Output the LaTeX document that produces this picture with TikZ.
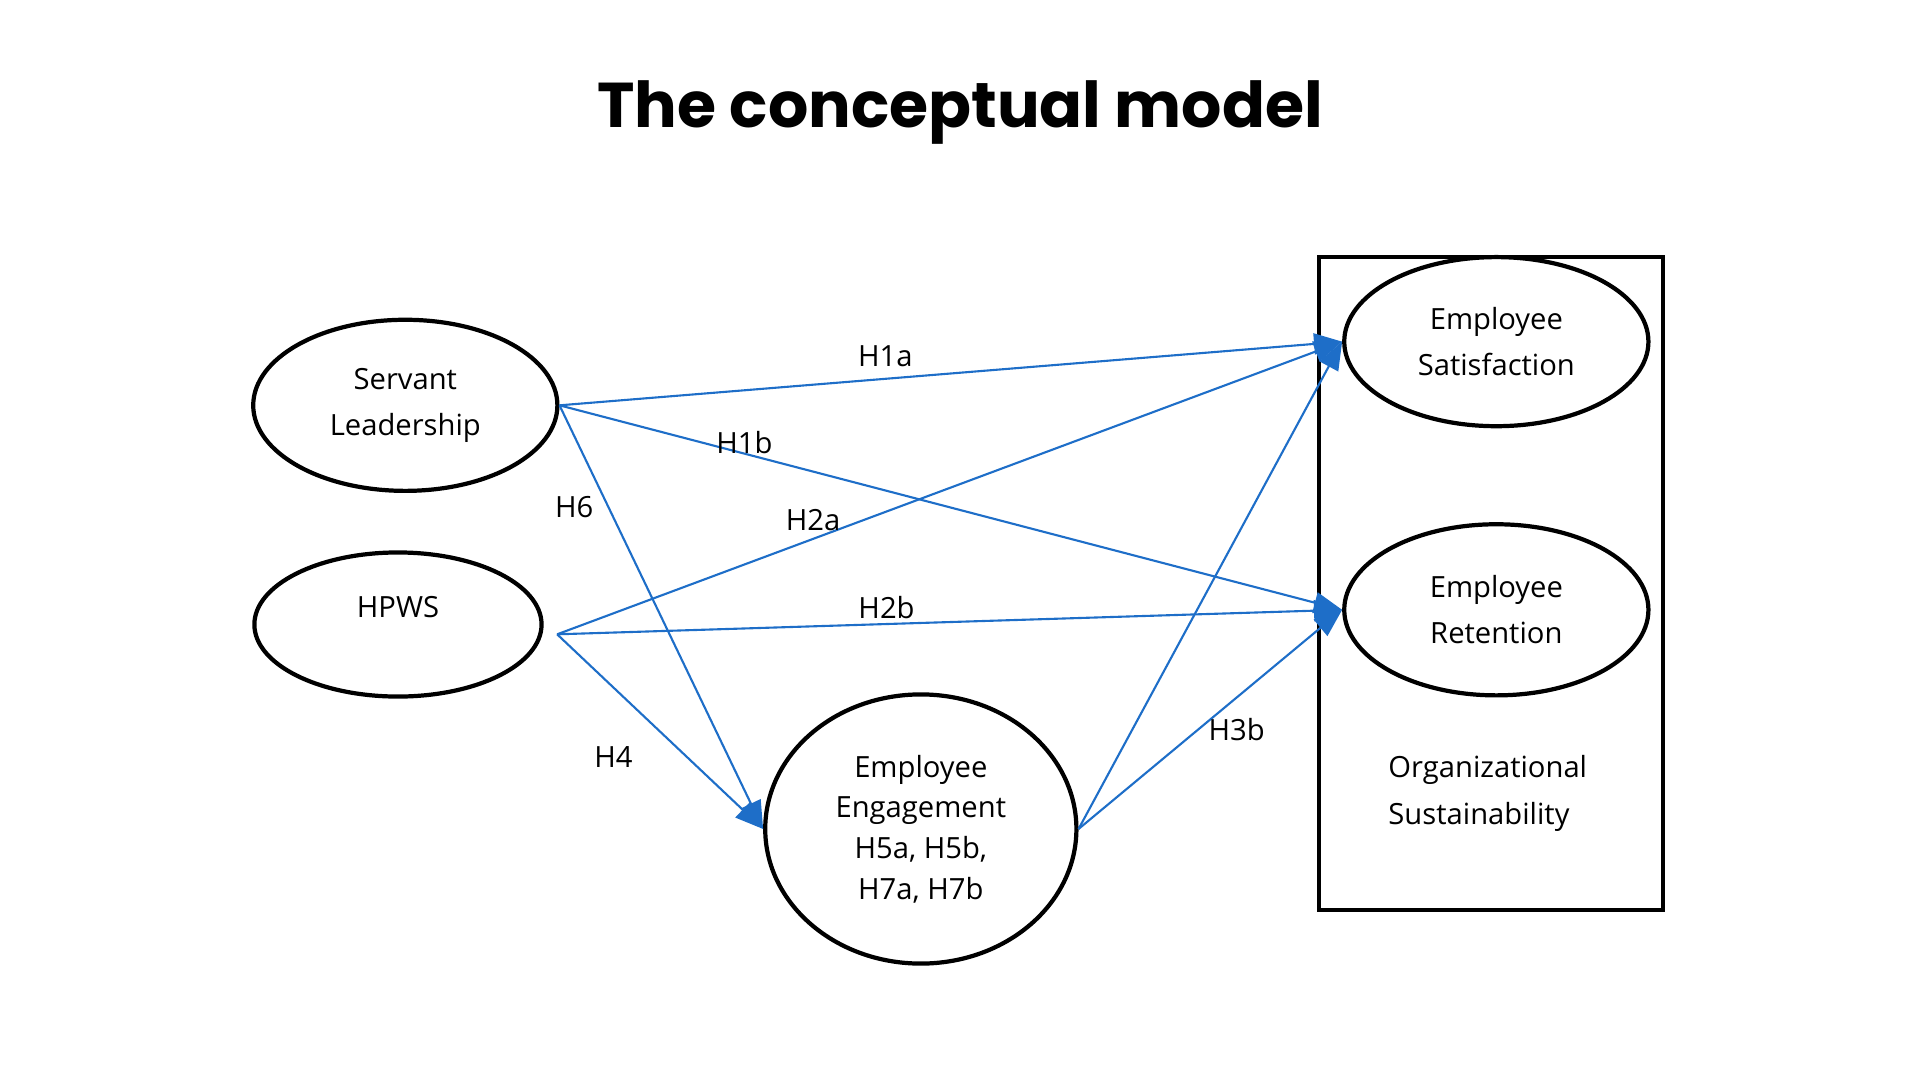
\documentclass[tikz,border=0pt]{standalone}
\usepackage{fontspec}
\setmainfont{Open Sans}
\newfontfamily\titlefont{Poppins}
\usetikzlibrary{shapes.geometric,arrows.meta}
\definecolor{arrowcol}{RGB}{30,110,200}
\tikzset{
  construct/.style={draw, ellipse, line width=1.2pt, align=center,
    font=\fontsize{8.3}{13.2}\selectfont},
  path/.style={arrowcol, line width=0.6pt, -{Triangle[width=6pt,length=8pt]}},
  hyp/.style={font=\fontsize{8.3}{10}\selectfont}
}
\begin{document}
\begin{tikzpicture}[x=0.012245cm, y=-0.012245cm]
    \useasboundingbox (0,0) rectangle (1568,882);

    % Title
    \node[font=\titlefont\bfseries\fontsize{18}{22}\selectfont] (title) at (784,92) {The conceptual model};

    % Outcome box
    \draw[line width=1.2pt] (1077,210) rectangle (1358,743);
    \node[align=left, font=\fontsize{8.3}{13.2}\selectfont] (os) at (1215,648) {Organizational\\Sustainability};

    % Constructs
    \node[construct, minimum width=3.04cm, minimum height=1.71cm] (sl) at (331,331) {Servant\\Leadership};
    \node[construct, minimum width=2.87cm, minimum height=1.44cm] (hpws) at (325,510) {};
    \node[hyp] (hpwslabel) at (325,496) {HPWS};
    \node[construct, minimum width=3.11cm, minimum height=2.69cm,
          font=\fontsize{8.3}{11.6}\selectfont] (eng) at (752,677) {Employee\\Engagement\\H5a, H5b,\\H7a, H7b};
    \node[construct, minimum width=3.04cm, minimum height=1.69cm] (sat) at (1222,279) {Employee\\Satisfaction};
    \node[construct, minimum width=3.04cm, minimum height=1.71cm] (ret) at (1222,498) {Employee\\Retention};

    % Start point for HPWS paths
    \coordinate (hp) at (455,518);

    % Hypothesised paths
    \draw[path] (sl.east) -- (sat.west);
    \draw[path] (sl.east) -- (ret.west);
    \draw[path] (sl.east) -- (eng.west);
    \draw[path] (hp) -- (sat.west);
    \draw[path] (hp) -- (ret.west);
    \draw[path] (hp) -- (eng.west);
    \draw[path] (eng.east) -- (sat.west);
    \draw[path] (eng.east) -- (ret.west);

    % Path labels
    \node[hyp] at (723,291) {H1a};
    \node[hyp] at (608,361) {H1b};
    \node[hyp] at (469,414) {H6};
    \node[hyp] at (664,425) {H2a};
    \node[hyp] at (724,496) {H2b};
    \node[hyp] at (501,618) {H4};
    \node[hyp] at (1010,596) {H3b};

\end{tikzpicture}
\end{document}
